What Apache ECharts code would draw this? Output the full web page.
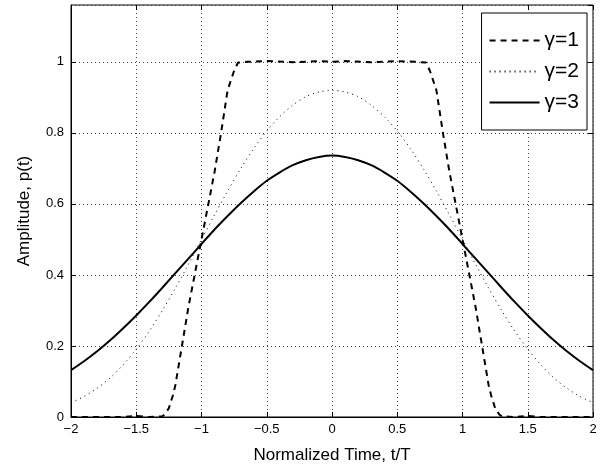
<!DOCTYPE html>
<html>
<head>
<meta charset="utf-8">
<script src="https://cdn.jsdelivr.net/npm/echarts@6/dist/echarts.min.js"></script>
<style>
  html, body { margin: 0; padding: 0; background: #fff; }
  #chart { width: 605px; height: 471px; }
</style>
</head>
<body>
<div id="chart"></div>
<script>
'use strict';

// time samples (t/T) for the two smooth pulses
var tGrid = [-2, -1.9, -1.8, -1.7, -1.6, -1.5, -1.4, -1.3, -1.2, -1.1, -1,
  -0.9, -0.8, -0.7, -0.6, -0.5, -0.4, -0.3, -0.2, -0.1, 0,
  0.1, 0.2, 0.3, 0.4, 0.5, 0.6, 0.7, 0.8, 0.9, 1,
  1.1, 1.2, 1.3, 1.4, 1.5, 1.6, 1.7, 1.8, 1.9, 2];

var gamma2 = [0.040, 0.058, 0.081, 0.110, 0.147, 0.191, 0.242, 0.300, 0.363, 0.430, 0.500,
  0.569, 0.636, 0.699, 0.756, 0.805, 0.846, 0.878, 0.902, 0.915, 0.920,
  0.915, 0.902, 0.878, 0.846, 0.805, 0.756, 0.699, 0.636, 0.569, 0.500,
  0.430, 0.363, 0.300, 0.242, 0.191, 0.147, 0.110, 0.081, 0.058, 0.040];

var gamma3 = [0.132, 0.157, 0.185, 0.216, 0.250, 0.286, 0.324, 0.364, 0.405, 0.446, 0.487,
  0.528, 0.566, 0.602, 0.635, 0.665, 0.689, 0.709, 0.723, 0.732, 0.736,
  0.732, 0.723, 0.709, 0.689, 0.665, 0.635, 0.602, 0.566, 0.528, 0.487,
  0.446, 0.405, 0.364, 0.324, 0.286, 0.250, 0.216, 0.185, 0.157, 0.132];

// gamma=1 has sharp edges, so it is sampled more densely there
var tSharp = [-2, -1.8, -1.6, -1.5, -1.4, -1.3, -1.28, -1.25, -1.22, -1.2, -1.15, -1.1, -1.05, -1,
  -0.95, -0.9, -0.85, -0.8, -0.75, -0.72, -0.65, -0.5, -0.3, -0.1, 0,
  0.1, 0.3, 0.5, 0.65, 0.72, 0.75, 0.8, 0.85, 0.9, 0.95,
  1, 1.05, 1.1, 1.15, 1.2, 1.22, 1.25, 1.28, 1.3, 1.4, 1.5, 1.6, 1.8, 2];

var gamma1 = [0, 0, 0, 0.003, 0, 0.002, 0.008, 0.025, 0.06, 0.09, 0.2, 0.31, 0.405, 0.5,
  0.595, 0.69, 0.8, 0.92, 0.975, 0.998, 1.0, 1.002, 0.999, 1.002, 1.0,
  1.002, 0.999, 1.002, 1.0, 0.998, 0.975, 0.92, 0.8, 0.69, 0.595,
  0.5, 0.405, 0.31, 0.2, 0.09, 0.06, 0.025, 0.008, 0.002, 0, 0.003, 0, 0, 0];

var legendNames = ['\u03b3=1', '\u03b3=2', '\u03b3=3'];
var xTicks = [-2, -1.5, -1, -0.5, 0, 0.5, 1, 1.5, 2];
var yTicks = [0, 0.2, 0.4, 0.6, 0.8, 1];

var pairs = function(xs, ys){
  var out = [];
  for (var i = 0; i < xs.length; i++) out.push([xs[i], ys[i]]);
  return out;
};

var fontFamily = '"Liberation Sans", Arial, Helvetica, sans-serif';
var gridLine = { show: true, lineStyle: { color: '#444', type: [1, 3], width: 1 } };

var fmtX = function(v){
  if (xTicks.indexOf(v) < 0) return '';
  return String(v).replace('-', '\u2212');
};
var fmtY = function(v){
  var r = Math.round(v * 10) / 10;
  if (yTicks.indexOf(r) < 0 || Math.abs(r - v) > 1e-6) return '';
  return String(r);
};

var chart = echarts.init(document.getElementById('chart'));

chart.setOption({
  backgroundColor: '#fff',
  animation: false,
  textStyle: { fontFamily: fontFamily },
  grid: {
    left: 71, right: 12, top: 5, bottom: 54,
    show: true, borderColor: '#000', borderWidth: 1, backgroundColor: 'transparent'
  },
  legend: {
    data: legendNames,
    orient: 'vertical',
    right: 18, top: 13,
    backgroundColor: '#fff',
    borderColor: '#000', borderWidth: 1,
    padding: [17, 8, 17, 7],
    itemWidth: 50, itemHeight: 14, itemGap: 10,
    itemStyle: { opacity: 0 },
    textStyle: { fontSize: 21, color: '#000', fontFamily: fontFamily }
  },
  xAxis: [
    {
      type: 'value', min: -2, max: 2, interval: 0.5,
      name: 'Normalized Time, t/T', nameLocation: 'middle', nameGap: 30,
      nameTextStyle: { fontSize: 17, color: '#000' },
      axisLine: { show: true, onZero: false, lineStyle: { color: '#000', width: 1 } },
      axisTick: { show: true, inside: true, length: 5, lineStyle: { color: '#000' } },
      axisLabel: { fontSize: 13, color: '#000', margin: 6, formatter: fmtX },
      splitLine: gridLine
    },
    {
      type: 'value', min: -2, max: 2, interval: 0.5, position: 'top',
      axisLine: { show: false, onZero: false },
      axisTick: { show: true, inside: true, length: 5, lineStyle: { color: '#000' } },
      axisLabel: { show: false },
      splitLine: { show: false }
    }
  ],
  yAxis: [
    {
      type: 'value', min: 0, max: 1.16, interval: 0.2,
      name: 'Amplitude, p(t)', nameLocation: 'middle', nameGap: 38,
      nameTextStyle: { fontSize: 17, color: '#000' },
      axisLine: { show: true, onZero: false, lineStyle: { color: '#000', width: 1 } },
      axisTick: { show: true, inside: true, length: 5, lineStyle: { color: '#000' } },
      axisLabel: { fontSize: 13, color: '#000', margin: 7, formatter: fmtY, showMaxLabel: false },
      splitLine: gridLine
    },
    {
      type: 'value', min: 0, max: 1.16, interval: 0.2, position: 'right',
      axisLine: { show: false, onZero: false },
      axisTick: { show: true, inside: true, length: 5, lineStyle: { color: '#000' } },
      axisLabel: { show: false },
      splitLine: { show: false }
    }
  ],
  series: [
    {
      name: legendNames[0], type: 'line', symbol: 'none',
      data: pairs(tSharp, gamma1),
      lineStyle: { color: '#000', width: 2, type: [6, 5] },
      itemStyle: { color: '#000' }
    },
    {
      name: legendNames[1], type: 'line', symbol: 'none', smooth: 0.3,
      data: pairs(tGrid, gamma2),
      lineStyle: { color: '#000', width: 1, type: [1, 4] },
      itemStyle: { color: '#000' }
    },
    {
      name: legendNames[2], type: 'line', symbol: 'none', smooth: 0.3,
      data: pairs(tGrid, gamma3),
      lineStyle: { color: '#000', width: 2, type: 'solid' },
      itemStyle: { color: '#000' }
    }
  ]
});
</script>
</body>
</html>
